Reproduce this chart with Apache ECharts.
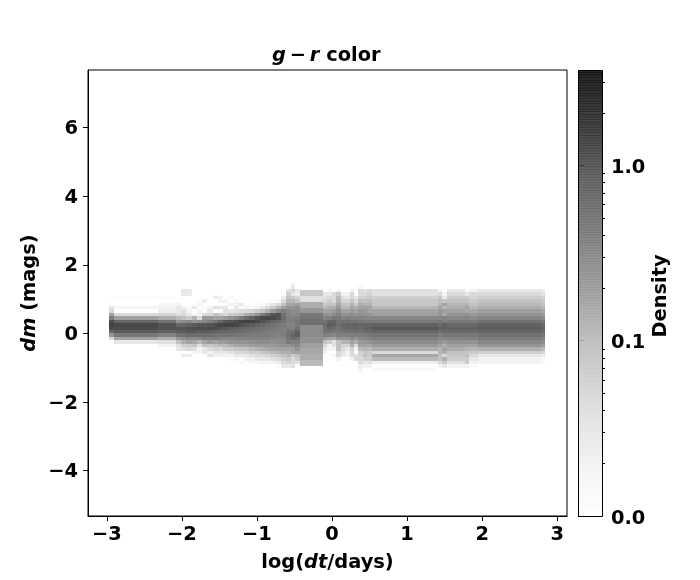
<!DOCTYPE html>
<html><head><meta charset="utf-8">
<style>html,body{margin:0;padding:0;background:#fff}#c{width:700px;height:580px}</style>
<script src="https://cdn.jsdelivr.net/npm/echarts@6/dist/echarts.min.js"></script>
</head><body><div id="c"></div>
<script>
// Columns of the 2D histogram: log(dt/days) bin edges
const xEdges = [-2.97,-2.90,-2.32,-2.08,-2.01,-1.94,-1.87,-1.80,-1.73,-1.66,-1.59,-1.52,-1.45,-1.38,-1.31,-1.24,-1.17,-1.10,-1.03,-0.96,-0.89,-0.82,-0.75,-0.68,-0.61,-0.54,-0.49,-0.43,
  -0.12,-0.07,0,0.05,0.12,0.17,0.24,0.29,0.35,0.41,0.47,0.53,1.41,1.47,1.53,1.77,1.83,1.94,2.78,2.84];
// dm bin tops: each 27-long row below runs 1.5, 1.4 ... -1.1 (bin height 0.1)
const dmTops = [1.5,1.4,1.3,1.2,1.1,1.0,0.9,0.8,0.7,0.6,0.5,0.4,0.3,0.2,0.1,0,-0.1,-0.2,-0.3,-0.4,-0.5,-0.6,-0.7,-0.8,-0.9,-1.0,-1.1];
const dmStep = 0.1;
// The wide block column (-0.43 .. -0.12) has coarser dm bins
const blockTops = [1.265,1.095,0.925,0.755,0.585,0.415,0.245,0.075,-0.095,-0.265,-0.435,-0.605,-0.775];
const blockStep = 0.17;
const blockDensity = [.09,.04,.16,.27,.6,.75,.36,.36,.31,.22,.18,.16,.12];
const blockColumnIndex = 27;

const density = [
[0,0,0,0,0,0,.012,.03,.05,.2,.5,1.5,1.8,1.5,.9,.3,.05,0,0,0,0,0,0,0,0,0,0],
[0,0,0,0,.012,0,0,.018,0,.05,.22,.9,1.6,1.5,1.1,.6,.2,.03,0,0,0,0,0,0,0,0,0],
[0,0,0,0,.012,0,.018,.02,.025,.06,.16,.7,1.3,1.3,1,.45,.15,.04,.02,0,0,0,0,0,0,0,0],
[0,0,0,0,0,0,.02,.03,.03,.04,.12,.3,.9,1.3,1.1,.7,.3,.1,.04,.03,0,0,0,0,0,0,0],
[0,0,.03,.03,0,0,0,.02,.04,.05,.1,.35,.9,1.35,1.1,.7,.35,.15,.07,.04,0,.025,0,0,0,0,0],
[0,0,.03,.025,0,0,0,.015,.02,.03,.08,.4,1,1.35,1.2,.8,.4,.2,.08,.05,0,.025,0,0,0,0,0],
[0,0,0,0,0,0,.012,.03,0,.02,.14,.3,1.1,1.4,1.2,.8,.35,.18,.09,.04,.015,0,0,0,0,0,0],
[0,0,0,0,0,.012,.02,0,.02,.02,.05,.35,1.2,1.5,1.1,.75,.4,.13,.04,.02,.02,0,0,0,0,0,0],
[0,0,0,0,0,.025,0,.015,0,.05,.25,.4,1.2,1.45,1.1,.8,.5,.2,.1,.03,.03,0,0,0,0,0,0],
[0,0,0,0,0,0,0,.02,.03,.05,.25,.5,1.3,1.5,1.1,.75,.45,.25,.09,.05,.02,.035,0,0,0,0,0],
[0,0,0,.012,.025,0,.012,.04,0,.1,.2,.7,1.5,1.5,1,.7,.5,.2,.1,.06,.03,.02,0,0,0,0,0],
[0,0,0,0,.02,.02,0,.03,.015,.07,.2,.9,1.7,1.3,.9,.7,.45,.25,.12,.05,.03,.02,0,0,0,0,0],
[0,0,0,0,0,.02,.012,.03,.04,.05,.25,1.2,1.8,1.2,.9,.65,.4,.25,.12,.08,.03,.02,0,0,0,0,0],
[0,0,0,0,.015,0,.02,0,.03,.08,.3,1.3,1.8,1.1,.85,.65,.4,.28,.15,.08,.04,.02,.012,0,0,0,0],
[0,0,0,0,0,.015,.02,.03,.04,.09,.4,1.5,1.6,1,.8,.6,.45,.3,.18,.09,.05,.03,.015,0,0,0,0],
[0,0,0,0,0,0,.03,.012,.05,.1,.55,1.7,1.4,.9,.8,.6,.45,.3,.2,.1,.05,.03,.012,.015,0,0,0],
[0,0,0,0,0,0,0,.02,.05,.16,.8,1.9,1.2,.85,.75,.6,.45,.3,.2,.1,.06,.03,.02,.012,0,0,0],
[0,0,0,0,0,0,0,.015,.06,.2,1,1.8,1.1,.8,.7,.55,.45,.33,.22,.12,.07,.04,.02,.015,0,0,0],
[0,0,0,0,0,0,.012,.02,.08,.3,1.3,1.6,.95,.75,.65,.55,.45,.35,.25,.14,.07,.05,.03,.015,0,0,0],
[0,0,0,0,0,0,.015,.03,.1,.5,1.6,1.3,.85,.7,.6,.55,.45,.35,.25,.16,.09,.05,.03,.02,0,0,0],
[0,0,0,0,0,0,.02,.05,.15,.8,1.7,1.1,.75,.65,.55,.5,.45,.35,.25,.17,.1,.06,.03,.02,0,0,0],
[0,0,0,0,0,.012,.03,.08,.25,1.2,1.6,.95,.7,.6,.5,.5,.4,.33,.25,.18,.12,.07,.04,.02,0,0,0],
[0,0,0,0,0,.015,.05,.13,.4,1.4,1.3,.8,.6,.55,.5,.45,.4,.35,.27,.2,.13,.08,.05,.025,.012,0,0],
[0,0,0,.012,.025,.05,.1,.22,.5,.7,.8,.7,.55,.5,.5,.5,.4,.35,.3,.2,.16,.1,.07,.05,.03,0,0],
[0,0,.04,.07,.1,.13,.2,.3,.4,.45,.5,.5,.45,.5,.7,.75,.6,.55,.3,.2,.15,.12,.09,.06,.03,0,0],
[.015,.03,.06,.03,.08,.13,.2,.3,.35,.35,.45,.5,.45,.45,.7,.9,.8,.45,.35,.2,.2,.08,.05,.05,.04,0,0],
[0,0,.03,.025,.06,.1,.22,.35,.35,.4,.5,.6,.6,.7,1,1.1,.7,.5,.4,.3,.2,.1,.08,.04,0,0,0],
[],
[0,0,0,.03,.04,.05,.08,.12,.2,.3,.45,.7,.8,.7,.7,.5,.25,.1,.05,.03,.02,0,0,0,0,0,0],
[0,0,.015,.03,.05,.08,.1,.15,.2,.28,.5,.9,1.1,.9,.7,.45,.2,.08,.02,.02,0,0,0,0,0,0,0],
[0,0,0,.05,.05,.05,.1,.15,.25,.35,.6,1,1,.75,.6,.4,.18,.04,.04,.02,0,.02,0,0,0,0,0],
[0,0,.02,.08,.12,.13,.18,.25,.33,.45,.55,.7,.8,.7,.6,.5,.3,.1,.1,.1,.05,.05,.02,0,0,0,0],
[0,0,0,.02,.04,.06,.1,.12,.2,.3,.45,.75,.9,.85,.65,.5,.3,.13,.06,.05,.04,.03,0,0,0,0,0],
[0,0,0,.02,.03,.06,.09,.12,.2,.3,.5,.75,.95,.9,.7,.5,.3,.14,.06,.03,.02,.02,0,0,0,0,0],
[0,0,.02,.05,.05,.09,.13,.18,.25,.35,.45,.7,.9,.9,.7,.5,.35,.2,.15,.06,.05,.05,.02,0,0,0,0],
[0,0,0,0,.03,.05,.08,.15,.2,.3,.45,.7,1,.9,.8,.5,.3,.15,.05,.02,.012,.04,.05,0,0,0,0],
[0,.015,.05,.05,.07,.11,.16,.2,.28,.3,.45,.6,.9,.8,.7,.5,.4,.25,.2,.12,.06,.06,.05,.05,.025,.02,.012],
[0,0,.04,.05,.07,.1,.14,.2,.25,.3,.4,.6,.9,1,.8,.55,.4,.28,.2,.13,.08,.1,.07,.03,.02,0,0],
[0,0,.05,.06,.08,.11,.14,.2,.2,.28,.4,.6,.9,1,.85,.6,.45,.3,.2,.12,.08,.08,.07,.04,.02,.012,0],
[0,0,.04,.04,.07,.09,.09,.13,.2,.22,.4,.55,1,1.2,.9,.65,.5,.35,.25,.16,.05,.18,.12,.025,0,.015,0],
[0,0,.02,.05,.09,.11,.13,.2,.25,.3,.4,.6,.8,1,.75,.5,.4,.3,.2,.13,.13,.1,.1,.05,.02,0,0],
[0,0,0,.02,.03,.09,.2,.12,.22,.18,.45,.5,1,1,.8,.6,.4,.25,.15,.2,.15,.05,.15,.08,.03,0,0],
[0,0,.03,.05,.08,.1,.13,.16,.2,.3,.4,.6,.85,1,.85,.6,.45,.32,.22,.16,.1,.09,.07,.04,.02,0,0],
[0,0,.012,.03,.08,.1,.14,.2,.17,.32,.45,.6,.85,1,.8,.6,.45,.3,.2,.14,.09,.11,.08,.08,.02,0,0],
[0,0,.02,.05,.06,.08,.1,.13,.18,.25,.35,.55,.85,1,.85,.6,.45,.3,.2,.13,.08,.05,.03,.02,.012,0,0],
[0,0,.03,.05,.07,.1,.12,.16,.22,.3,.42,.7,1,1.1,.9,.7,.55,.4,.28,.15,.07,.03,.02,.02,0,0,0],
[0,0,.025,.04,.06,.08,.1,.13,.18,.25,.36,.6,.85,.95,.8,.6,.48,.35,.24,.12,.06,.025,.015,.015,0,0,0]
];

// Axis tick values
const xTicks = [-3,-2,-1,0,1,2,3];
const yTicks = [-4,-2,0,2,4,6];
const cbarLabels = [0.01,0.1,1];
const cbarMinor = [0.02,0.03,0.04,0.05,0.06,0.07,0.08,0.09,0.2,0.3,0.4,0.5,0.6,0.7,0.8,0.9,2,3];
const cbarMin = 0.01, cbarMax = 3.5;

// Greys colormap stops
const greys = [255,240,217,189,150,115,82,37,0];
const alpha = 0.85;
function t01(d){ return Math.max(0,Math.min(1,Math.log(d/cbarMin)/Math.log(cbarMax/cbarMin))); }
function greyAt(d){ const p=t01(d)*8, i=Math.min(7,Math.floor(p)); return greys[i]+(greys[i+1]-greys[i])*(p-i); }
function css(g){ g=Math.round(g); return 'rgb('+g+','+g+','+g+')'; }

const cells = [];
density.forEach((col,c)=>{
  const x0=xEdges[c], x1=xEdges[c+1];
  if(c===blockColumnIndex){
    blockDensity.forEach((d,r)=>cells.push([x0,x1,blockTops[r],blockTops[r]-blockStep,d]));
  } else {
    col.forEach((d,r)=>{ if(d>0) cells.push([x0,x1,dmTops[r],dmTops[r]-dmStep,d]); });
  }
});

const cbarBands=[];
const nBands=170;
for(let k=0;k<nBands;k++){
  const a=cbarMin*Math.pow(cbarMax/cbarMin,k/nBands), b=cbarMin*Math.pow(cbarMax/cbarMin,(k+1.25)/nBands);
  cbarBands.push([0,1,Math.min(b,cbarMax),a,Math.sqrt(a*b)]);
}

const F='"DejaVu Sans"';
const FS=19.4;
const labelStyle={fontFamily:F,fontWeight:'bold',fontSize:FS,color:'#000'};
const ital={fontFamily:F,fontWeight:'bold',fontStyle:'italic',fontSize:FS,color:'#000'};
const norm={fontFamily:F,fontWeight:'bold',fontSize:FS,color:'#000'};
const fmtMinus=v=>String(v).replace('-','\u2212');
function rectItem(params,api,fill,op,snap){
  const p0=api.coord([api.value(0),api.value(2)]), p1=api.coord([api.value(1),api.value(3)]);
  const r=snap?Math.round:(v=>v);
  const x=r(p0[0]),y=r(p0[1]);
  return {type:'rect',shape:{x:x,y:y,width:r(p1[0])-x,height:r(p1[1])-y},style:{fill:fill,opacity:op}};
}
const chart=echarts.init(document.getElementById('c'),null,{renderer:'canvas'});
chart.setOption({
  animation:false,
  backgroundColor:'#fff',
  title:{left:267,top:41,text:'{i|g}{n|\u2009\u2212\u2009}{i|r}{n| color}',textStyle:{rich:{i:ital,n:norm}}},
  grid:[
    {left:88,top:70,width:479,height:446,show:true,borderColor:'#000',borderWidth:1,backgroundColor:'transparent'},
    {left:578,top:70,width:24,height:446,show:false}
  ],
  xAxis:[
    {gridIndex:0,type:'value',min:-3.25,max:3.13,
     axisLine:{show:true,onZero:false,lineStyle:{color:'#000'}},
     splitLine:{show:false},
     axisTick:{show:true,length:5,customValues:xTicks,lineStyle:{color:'#000'}},
     axisLabel:{...labelStyle,margin:9,customValues:xTicks,formatter:fmtMinus},
     name:'{n|log(}{i|dt}{n|/days)}',nameLocation:'middle',nameGap:37,
     nameTextStyle:{rich:{i:ital,n:norm}}},
    {gridIndex:1,type:'value',min:0,max:1,show:false}
  ],
  yAxis:[
    {gridIndex:0,type:'value',min:-5.32,max:7.68,
     axisLine:{show:true,onZero:false,lineStyle:{color:'#000'}},
     splitLine:{show:false},
     axisTick:{show:true,length:5,customValues:yTicks,lineStyle:{color:'#000'}},
     axisLabel:{...labelStyle,margin:10,verticalAlign:'top',lineHeight:3,customValues:yTicks,formatter:fmtMinus},
     name:'{i|dm}{n| (mags)}',nameLocation:'middle',nameGap:49,nameMoveOverlap:false,
     nameTextStyle:{rich:{i:ital,n:norm}}},
    {gridIndex:1,type:'log',logBase:10,min:cbarMin,max:cbarMax,position:'right',
     axisLine:{show:false},splitLine:{show:false},minorTick:{show:false},
     axisTick:{show:true,length:6,customValues:cbarLabels,lineStyle:{color:'#000'}},
     axisLabel:{...labelStyle,margin:9,verticalAlign:'top',lineHeight:5,customValues:cbarLabels,formatter:v=>Number(v).toFixed(1)},
     name:'Density',nameLocation:'middle',nameGap:49,nameRotate:90,
     nameTextStyle:{fontFamily:F,fontWeight:'bold',fontSize:FS,color:'#000',padding:[0,6,0,0]}}
  ],
  series:[
    {type:'custom',xAxisIndex:0,yAxisIndex:0,coordinateSystem:'cartesian2d',data:cells,
     encode:{x:[0,1],y:[2,3]},silent:true,
     renderItem:(p,api)=>{const d=api.value(4);return rectItem(p,api,css(255-alpha*(255-greyAt(d))),1,true);}},
    {type:'custom',xAxisIndex:1,yAxisIndex:1,coordinateSystem:'cartesian2d',data:cbarBands,
     encode:{x:[0,1],y:[2,3]},silent:true,clip:false,
     renderItem:(p,api)=>rectItem(p,api,css(greyAt(api.value(4))),alpha,false)},
    {type:'custom',xAxisIndex:1,yAxisIndex:1,coordinateSystem:'cartesian2d',data:cbarMinor.map(v=>[1,v]),
     encode:{x:0,y:1},silent:true,clip:false,
     renderItem:(p,api)=>{const q=api.coord([1,api.value(1)]);const y=Math.round(q[1])+0.5;
       return {type:'line',shape:{x1:q[0],y1:y,x2:q[0]+3,y2:y},style:{stroke:'#000',lineWidth:1}};}},
    {type:'custom',xAxisIndex:1,yAxisIndex:1,coordinateSystem:'cartesian2d',data:[[0,1,cbarMax,cbarMin]],
     encode:{x:[0,1],y:[2,3]},silent:true,clip:false,z:5,
     renderItem:(p,api)=>{const r=rectItem(p,api,'none',1,true);r.style={fill:'none',stroke:'#000',lineWidth:1};
       r.shape.x+=.5;r.shape.y+=.5;return r;}}
  ]
});
</script></body></html>
